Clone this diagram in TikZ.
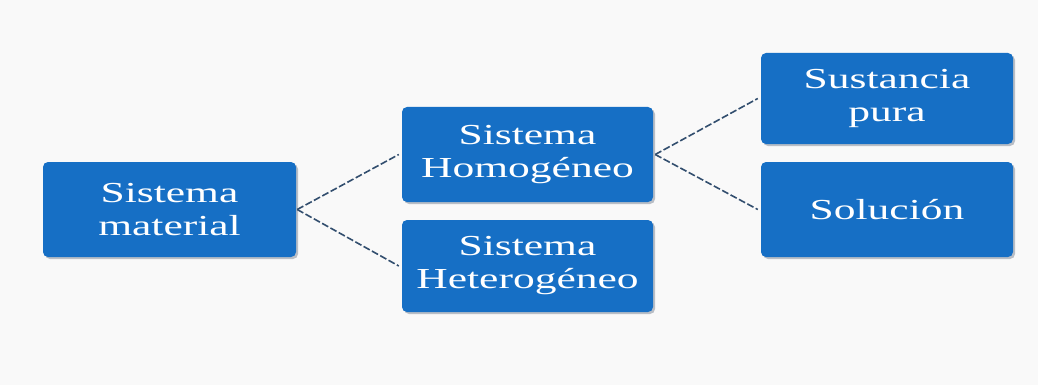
\documentclass[tikz,border=0pt]{standalone}
\usepackage{fontspec}
\setmainfont{Liberation Serif}[FakeStretch=1.5]
\definecolor{boxblue}{RGB}{22,111,197}
\definecolor{linecol}{RGB}{50,78,110}
\definecolor{bg}{RGB}{249,249,249}
\definecolor{shadowc}{RGB}{185,190,198}
\tikzset{
  bluebox/.style={draw=none, fill=boxblue, rounded corners=5pt, text=white,
    align=center, inner sep=0pt, font=\fontsize{29}{33}\selectfont,
    minimum width=#1, minimum height=95pt},
  bluebox/.default={252pt},
  conn/.style={draw=linecol, line width=1.6pt, dash pattern=on 7pt off 2.5pt}
}
\begin{document}
\begin{tikzpicture}[x=1pt,y=-1pt]
\fill[bg] (0,0) rectangle (1038,385);
\useasboundingbox (0,0) rectangle (1038,385);
% shadows
\foreach \a/\b/\c/\d in {43/162/296/257, 402/107/653/202, 402/220/653/312, 761/53/1013/144, 761/162/1013/257}{
  \fill[shadowc, rounded corners=5pt] (\a+2,\b+2) rectangle (\c+2,\d+2);
}
\node[bluebox={253pt}, minimum height=95pt] (mat) at (169.5,209.5) {Sistema\\material};
\node[bluebox={251pt}, minimum height=95pt] (hom) at (527.5,154.5) {Sistema\\Homogéneo};
\node[bluebox={251pt}, minimum height=92pt] (het) at (527.5,266) {Sistema\\Heterogéneo};
\node[bluebox={252pt}, minimum height=91pt] (sus) at (887,98.5) {Sustancia\\pura};
\node[bluebox={252pt}, minimum height=95pt] (sol) at (887,209.5) {Solución};
\draw[conn] ([xshift=1pt]mat.east) -- ([xshift=-3pt]hom.west);
\draw[conn] ([xshift=1pt]mat.east) -- ([xshift=-3pt]het.west);
\draw[conn] ([xshift=2pt]hom.east) -- ([xshift=-3pt]sus.west);
\draw[conn] ([xshift=2pt]hom.east) -- ([xshift=-3pt]sol.west);
\end{tikzpicture}
\end{document}
